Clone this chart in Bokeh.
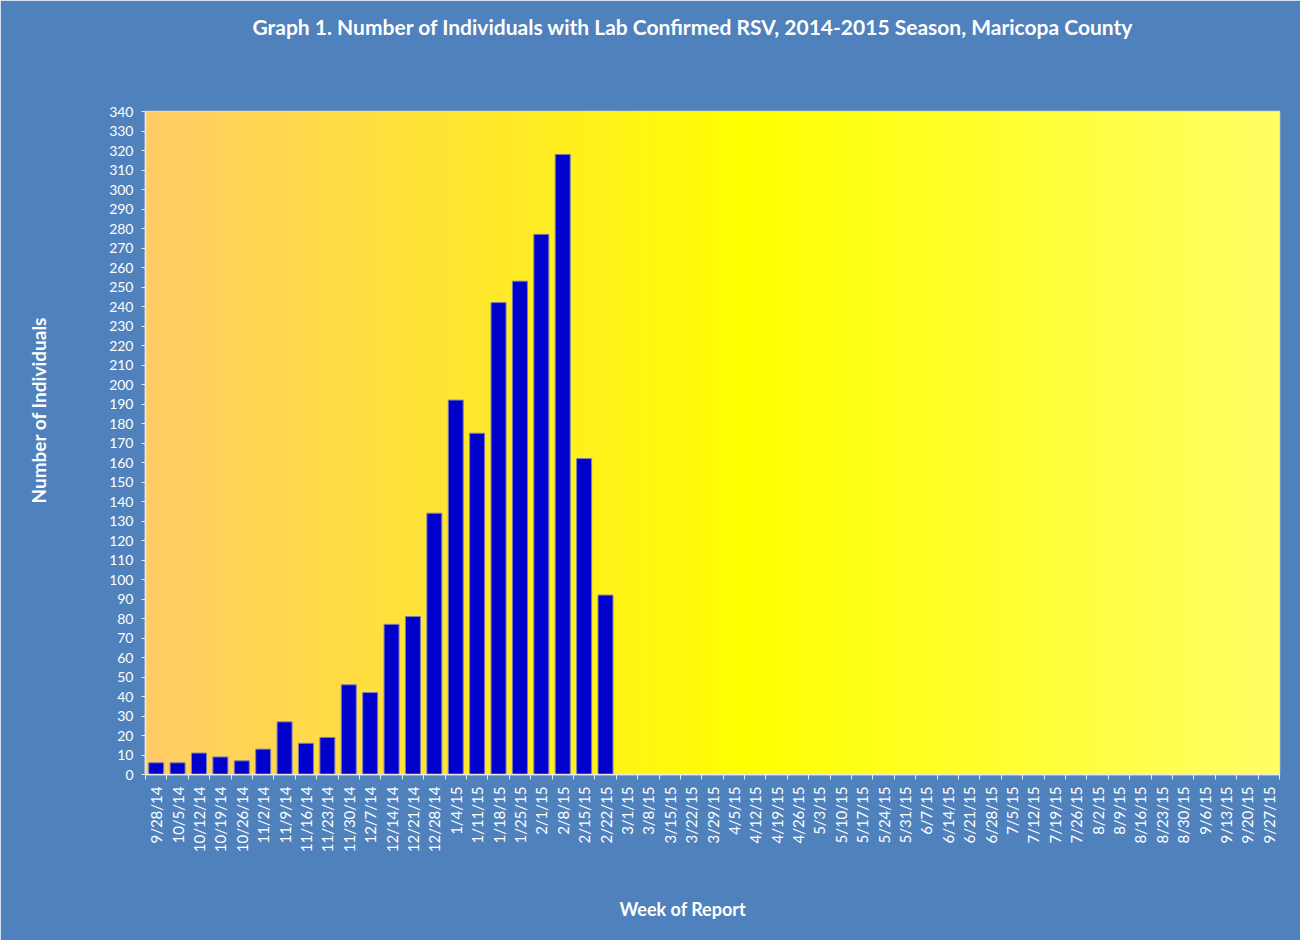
import numpy as np
from bokeh.plotting import figure
from bokeh.models import LinearAxis, FixedTicker, Range1d, Title, ColumnDataSource
from bokeh.embed import file_html
from bokeh.resources import INLINE

weeks = ["9/28/14", "10/5/14", "10/12/14", "10/19/14", "10/26/14", "11/2/14", "11/9/14",
         "11/16/14", "11/23/14", "11/30/14", "12/7/14", "12/14/14", "12/21/14", "12/28/14",
         "1/4/15", "1/11/15", "1/18/15", "1/25/15", "2/1/15", "2/8/15", "2/15/15", "2/22/15",
         "3/1/15", "3/8/15", "3/15/15", "3/22/15", "3/29/15", "4/5/15", "4/12/15", "4/19/15",
         "4/26/15", "5/3/15", "5/10/15", "5/17/15", "5/24/15", "5/31/15", "6/7/15", "6/14/15",
         "6/21/15", "6/28/15", "7/5/15", "7/12/15", "7/19/15", "7/26/15", "8/2/15", "8/9/15",
         "8/16/15", "8/23/15", "8/30/15", "9/6/15", "9/13/15", "9/20/15", "9/27/15"]
reported = [6, 6, 11, 9, 7, 13, 27, 16, 19, 46, 42, 77, 81, 134, 192, 175, 242, 253, 277, 318, 162, 92]
counts = reported + [0] * (len(weeks) - len(reported))
y_ticks = list(range(0, 341, 10))

BG = "#4F81BD"
FONT = "Lato"

n = len(weeks)
centers = [i + 0.5 for i in range(n)]
bounds = list(range(n + 1))

p = figure(frame_width=1134, frame_height=663, output_backend="svg", toolbar_location=None,
           x_range=Range1d(0, n), y_range=Range1d(0, 340),
           x_axis_location=None, y_axis_location=None,
           min_border_left=145, min_border_right=21, min_border_top=111, min_border_bottom=166)
p.border_fill_color = BG
p.background_fill_color = "#FFFF00"
p.outline_line_color = "#D9D9D9"
p.outline_line_width = 1.5
p.xgrid.visible = False
p.ygrid.visible = False

# gradient plot-area fill
N = 400
t = np.linspace(0, 1, N)
mid = 0.53
left = np.array([255, 204, 102])
midc = np.array([255, 255, 0])
right = np.array([255, 255, 102])
cols = np.zeros((N, 3))
for k, tt in enumerate(t):
    if tt <= mid:
        f = tt / mid
        cols[k] = left + (midc - left) * f
    else:
        f = (tt - mid) / (1 - mid)
        cols[k] = midc + (right - midc) * f
img = np.zeros((1, N), dtype=np.uint32)
view = img.view(dtype=np.uint8).reshape((1, N, 4))
view[0, :, 0] = cols[:, 0].astype(np.uint8)
view[0, :, 1] = cols[:, 1].astype(np.uint8)
view[0, :, 2] = cols[:, 2].astype(np.uint8)
view[0, :, 3] = 255
p.image_rgba(image=[img], x=0, y=0, dw=n, dh=340)

src = ColumnDataSource(dict(x=centers, top=counts))
p.vbar(x="x", top="top", width=0.7, bottom=0, source=src,
       fill_color="#0000CC", line_color="#7F7FB0", line_width=1)

# y axis
yax = LinearAxis(ticker=FixedTicker(ticks=y_ticks, minor_ticks=[]))
yax.major_label_text_font = FONT
yax.major_label_text_font_size = "14px"
yax.major_label_text_color = "white"
yax.major_label_standoff = 8
yax.axis_line_color = "#E8E8E8"
yax.axis_line_width = 1.5
yax.major_tick_line_color = "#E8E8E8"
yax.major_tick_out = 4
yax.major_tick_in = 0
yax.minor_tick_line_color = None
p.add_layout(yax, "left")

# x axis
xax = LinearAxis(ticker=FixedTicker(ticks=centers, minor_ticks=bounds))
xax.major_label_overrides = {c: w for c, w in zip(centers, weeks)}
xax.major_label_orientation = np.pi / 2
xax.major_label_text_font = FONT
xax.major_label_text_font_size = "15px"
xax.major_label_text_color = "white"
xax.major_label_standoff = 6
xax.major_tick_line_color = None
xax.minor_tick_line_color = "#E8E8E8"
xax.minor_tick_out = 5
xax.minor_tick_in = 0
xax.axis_line_color = "#E8E8E8"
xax.axis_line_width = 1.5
p.add_layout(xax, "below")


def spacer(size):
    return Title(text=" ", standoff=size, text_font_size="1px", text_color=BG)


p.add_layout(spacer(70), "above")
title = Title(text="Graph 1. Number of Individuals with Lab Confirmed RSV, 2014-2015 Season, Maricopa County",
              align="left", offset=107, standoff=0,
              text_font=FONT, text_font_size="21px", text_font_style="bold", text_color="white")
p.add_layout(title, "above")

p.add_layout(spacer(54), "left")
ylab = Title(text="Number of Individuals", align="left", offset=271, standoff=0,
             text_font=FONT, text_font_size="19px", text_font_style="bold", text_color="white")
p.add_layout(ylab, "left")

p.add_layout(spacer(37), "below")
xlab = Title(text="Week of Report", align="left", offset=474, standoff=0,
             text_font=FONT, text_font_size="18px", text_font_style="bold", text_color="white")
p.add_layout(xlab, "below")

open("out.html", "w").write(file_html(p, INLINE))
